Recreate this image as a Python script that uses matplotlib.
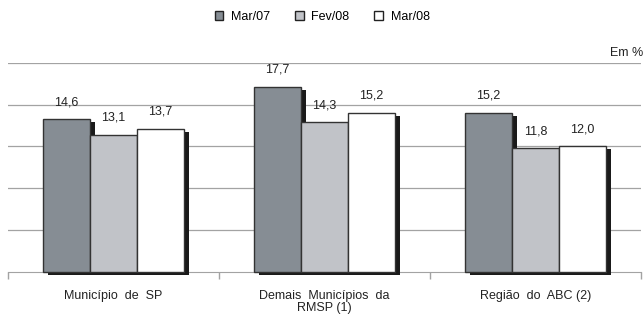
import numpy as np
from matplotlib import pyplot as plt
from matplotlib import patheffects as pe
from matplotlib.patches import Patch

plt.rcParams['font.family'] = ['Liberation Sans Narrow', 'Liberation Sans', 'DejaVu Sans']

# data
categories = ['Município  de  SP', 'Demais  Municípios  da\nRMSP (1)', 'Região  do  ABC (2)']
series_names = ['Mar/07', 'Fev/08', 'Mar/08']
mar07 = [14.6, 17.7, 15.2]
fev08 = [13.1, 14.3, 11.8]
mar08 = [13.7, 15.2, 12.0]
colors = ['#868d94', '#c1c3c8', '#ffffff']

fig = plt.figure(figsize=(6.44, 3.16), dpi=100)
ax = fig.add_axes([8 / 644, 44.5 / 316, 633 / 644, 208.5 / 316])

x = np.arange(len(categories))
width = 0.223
shadow = [pe.SimplePatchShadow(offset=(3.6, -2.2), shadow_rgbFace='#1a1a1a', alpha=1.0), pe.Normal()]

for i, (vals, name, c) in enumerate(zip([mar07, fev08, mar08], series_names, colors)):
    bars = ax.bar(x + (i - 1) * width, vals, width, color=c, edgecolor='#333333',
                  linewidth=1.0, zorder=3 + i, clip_on=False)
    for b in bars:
        b.set_path_effects(shadow)
    for xi, v in zip(x + (i - 1) * width, vals):
        ax.annotate(f'{v:.1f}'.replace('.', ','), (xi, v), xytext=(0, 8),
                    textcoords='offset points', ha='center', va='bottom',
                    fontsize=9, color='#222222')

ax.set_xlim(-0.5, len(categories) - 0.5)
ax.set_ylim(0, 20)
ax.set_yticks([4, 8, 12, 16, 20])
ax.yaxis.grid(True, color='#a3a3a3', linewidth=0.9)
ax.set_axisbelow(True)
ax.tick_params(axis='y', left=False, labelleft=False)

ax.set_xticks(x)
ax.set_xticklabels(categories, fontsize=9, color='#222222', linespacing=1.05)
ax.tick_params(axis='x', which='major', length=0, pad=13)
ax.set_xticks(np.arange(len(categories) + 1) - 0.5, minor=True)
ax.tick_params(axis='x', which='minor', length=5, color='#a3a3a3', width=1)

for s in ['top', 'left', 'right']:
    ax.spines[s].set_visible(False)
ax.spines['bottom'].set_color('#a3a3a3')

ax.text(1.004, 1.02, 'Em %', transform=ax.transAxes, ha='right', va='bottom',
        fontsize=9, color='#222222')

handles = [Patch(facecolor=c, edgecolor='#222222', linewidth=1.0) for c in colors]
fig.legend(handles, series_names, loc='center', bbox_to_anchor=(0.5, 1 - 17 / 316),
           ncol=3, frameon=False, fontsize=9, handlelength=0.7, handleheight=0.7,
           handletextpad=0.6, columnspacing=2.0)

fig.savefig('out.png', dpi=100)
